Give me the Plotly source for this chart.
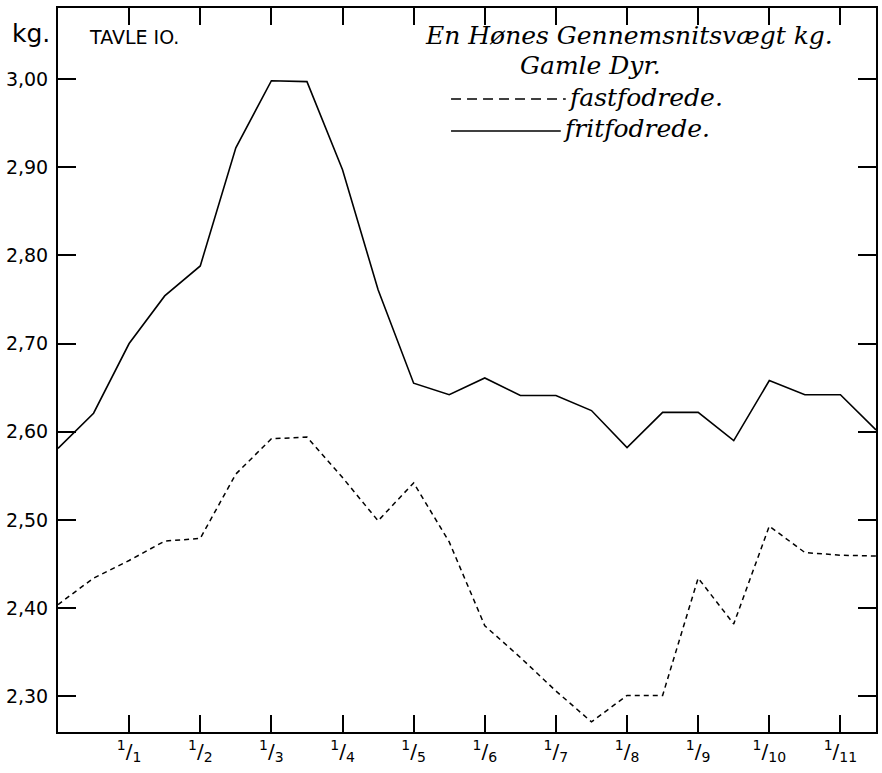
import plotly.graph_objects as go

# half-month index: 0 = 1/12 (prev. year), 2 = 1/1, 4 = 1/2, ... 22 = 1/11, 23 = mid-Nov
periods = list(range(24))
fritfodrede = [2.581, 2.621, 2.700, 2.754, 2.788, 2.922, 2.998, 2.997, 2.897, 2.761,
               2.655, 2.642, 2.661, 2.641, 2.641, 2.624, 2.582, 2.622, 2.622, 2.590,
               2.658, 2.642, 2.642, 2.602]
fastfodrede = [2.404, 2.434, 2.454, 2.476, 2.479, 2.552, 2.592, 2.594, 2.548, 2.499,
               2.542, 2.475, 2.380, 2.344, 2.306, 2.271, 2.301, 2.301, 2.434, 2.382,
               2.493, 2.463, 2.460, 2.459]
month_ticks = [2, 4, 6, 8, 10, 12, 14, 16, 18, 20, 22]
month_labels = ["<sup>1</sup>/<sub>%d</sub>" % m for m in range(1, 12)]
y_ticks = [2.30, 2.40, 2.50, 2.60, 2.70, 2.80, 2.90, 3.00]
y_labels = ["2,30", "2,40", "2,50", "2,60", "2,70", "2,80", "2,90", "3,00"]

W, H = 882, 773
L, R, T, B = 58, 4, 8, 41
PW, PH = W - L - R, H - T - B


def px(x):
    return (x - L) / PW


def py(y):
    return (H - B - y) / PH


fig = go.Figure()
fig.add_trace(go.Scatter(x=periods, y=fastfodrede, mode="lines", name="fastfodrede",
                         line=dict(color="black", width=1.5, dash="5px,4px"),
                         showlegend=False))
fig.add_trace(go.Scatter(x=periods, y=fritfodrede, mode="lines", name="fritfodrede",
                         line=dict(color="black", width=1.6), showlegend=False))

serif = dict(family="DejaVu Serif", size=25, color="black", style="italic")
ann = [
    dict(text="En Hønes Gennemsnitsvægt kg.", x=px(630), y=py(35), font=serif),
    dict(text="Gamle Dyr.", x=px(592), y=py(65), font=serif),
    dict(text="fastfodrede.", x=px(567), y=py(98), xanchor="left", font=serif),
    dict(text="fritfodrede.", x=px(562), y=py(128), xanchor="left", font=serif),
    dict(text="TAVLE IO.", x=px(87), y=py(37), xanchor="left",
         font=dict(family="DejaVu Sans", size=19, color="black")),
    dict(text="kg.", x=px(31), y=py(34),
         font=dict(family="DejaVu Sans", size=25, color="black")),
]
for a in ann:
    a.setdefault("xanchor", "center")
    a.update(xref="paper", yref="paper", yanchor="middle", showarrow=False)

shapes = [
    dict(type="line", xref="paper", yref="paper", x0=px(452), x1=px(567),
         y0=py(99), y1=py(99), line=dict(color="black", width=1.5, dash="10px,6px")),
    dict(type="line", xref="paper", yref="paper", x0=px(452), x1=px(562),
         y0=py(131), y1=py(131), line=dict(color="black", width=1.6)),
]

fig.update_layout(
    width=W, height=H,
    margin=dict(l=L, r=R, t=T, b=B),
    paper_bgcolor="white", plot_bgcolor="white",
    annotations=ann, shapes=shapes,
    font=dict(family="DejaVu Sans", size=18, color="black"),
    xaxis=dict(range=[0, 23], tickvals=month_ticks, ticktext=month_labels,
               ticks="inside", ticklen=17, tickwidth=1.5, tickcolor="black",
               showline=True, linecolor="black", linewidth=2, mirror="ticks",
               showgrid=False, zeroline=False, fixedrange=True,
               tickfont=dict(family="DejaVu Sans", size=20)),
    yaxis=dict(range=[2.2595, 3.0805], tickvals=y_ticks, ticktext=y_labels,
               ticks="inside", ticklen=18, tickwidth=1.5, tickcolor="black",
               showline=True, linecolor="black", linewidth=2, mirror="ticks",
               showgrid=False, zeroline=False, fixedrange=True,
               ticklabelstandoff=4,
               tickfont=dict(family="DejaVu Sans", size=19)),
)

fig.write_html("out.html", config={"displayModeBar": False},
               post_script="document.body.style.margin='0px';")
